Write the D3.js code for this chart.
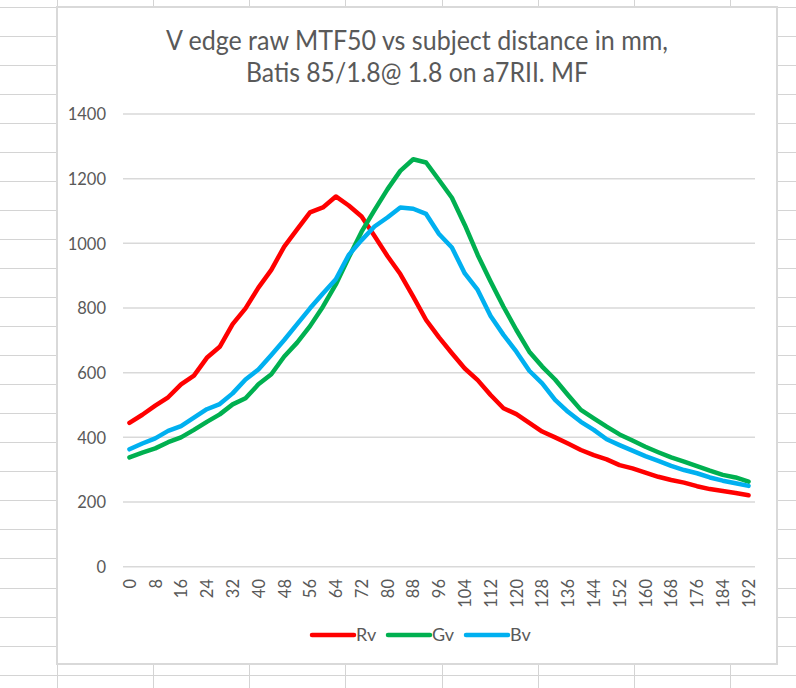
<!DOCTYPE html>
<html>
<head>
<meta charset="utf-8">
<script src="https://cdn.jsdelivr.net/npm/d3@7"></script>
<style>
  html, body { margin: 0; padding: 0; background: #fff; }
  svg { display: block; }
  text { font-family: Lato, "Open Sans", "Liberation Sans", sans-serif; }
</style>
</head>
<body>
<svg id="chart" width="796" height="688"></svg>
<script>
// ---- data ----
const categories = d3.range(0, 193, 4);          // subject distance steps (mm)
const tickLabels = d3.range(0, 193, 8);          // labels shown on x axis
const yTicks = [0, 200, 400, 600, 800, 1000, 1200, 1400];

const seriesNames = ["Rv", "Gv", "Bv"];
const seriesColors = ["#FF0000", "#00B050", "#00B0F0"];

const rv = [445,470,498,524,564,591,646,680,750,799,863,918,990,1043,1096,1111,1145,1117,1083,1023,
            961,905,835,763,709,660,613,577,531,490,472,445,418,400,381,361,345,332,314,304,
            291,278,268,260,249,240,234,228,221];
const gv = [338,353,366,385,400,423,448,471,502,521,564,595,650,693,744,804,873,956,1036,1103,
            1167,1224,1260,1250,1196,1141,1057,964,882,804,732,665,619,579,531,485,459,433,409,390,
            371,354,338,325,311,297,284,276,263];
const bv = [363,381,397,420,435,461,487,503,536,579,610,655,701,750,799,845,889,964,1010,1052,
            1080,1111,1107,1091,1029,987,907,856,775,717,665,606,567,516,479,448,423,394,376,359,
            342,327,312,299,289,276,266,258,250];

const titleLines = ["V edge raw MTF50 vs subject distance in mm,", "Batis 85/1.8@ 1.8 on a7RII. MF"];

// ---- drawing ----
const svg = d3.select("#chart");
const W = 796, H = 688;

// spreadsheet cells in the background
const bg = svg.append("g");
const rowH = 29.05, colW = 96.15;
for (let y = 6.5; y < H; y += rowH) {
  bg.append("line").attr("x1", 0).attr("x2", W).attr("y1", Math.round(y) + 0.5).attr("y2", Math.round(y) + 0.5)
    .attr("stroke", "#d4d4d4").attr("stroke-width", 1);
}
for (let x = 57 - colW; x < W; x += colW) {
  bg.append("line").attr("y1", 0).attr("y2", H).attr("x1", Math.round(x) + 0.5).attr("x2", Math.round(x) + 0.5)
    .attr("stroke", "#d4d4d4").attr("stroke-width", 1);
}

// chart area
const box = { x0: 57, y0: 7, x1: 777, y1: 664 };
svg.append("rect")
  .attr("x", box.x0).attr("y", box.y0)
  .attr("width", box.x1 - box.x0).attr("height", box.y1 - box.y0)
  .attr("fill", "#fff").attr("stroke", "#d9d9d9").attr("stroke-width", 2);

// title
const cx = (box.x0 + box.x1) / 2;
const titleWidths = [502, 342];
svg.append("g").selectAll("text").data(titleLines).join("text")
  .attr("x", cx).attr("y", (d, i) => 50 + i * 31.5)
  .attr("text-anchor", "middle")
  .attr("font-size", 26).attr("font-weight", 400)
  .attr("fill", "#595959")
  .attr("textLength", (d, i) => titleWidths[i])
  .attr("lengthAdjust", "spacingAndGlyphs")
  .text(d => d);

// scales
const x = d3.scalePoint().domain(categories).range([123, 755]).padding(0.5);
const y = d3.scaleLinear().domain([0, 1400]).range([566.7, 114]);

// gridlines
const grid = svg.append("g");
grid.selectAll("line").data(yTicks).join("line")
  .attr("x1", 123).attr("x2", 755)
  .attr("y1", d => y(d)).attr("y2", d => y(d))
  .attr("stroke", "#d9d9d9").attr("stroke-width", 1.5);

// y axis labels
const yAxis = d3.axisLeft(y).tickValues(yTicks).tickFormat(d3.format("d")).tickSize(0).tickPadding(0);
const gy = svg.append("g").attr("transform", "translate(106,0)").call(yAxis);
gy.select(".domain").remove();
gy.selectAll("text").attr("font-size", 16.5).attr("fill", "#595959")
  .attr("font-family", "Lato, 'Open Sans', sans-serif").attr("dy", "0.35em");

// x axis labels (rotated)
const xAxis = d3.axisBottom(x).tickValues(tickLabels).tickFormat(d3.format("d")).tickSize(0).tickPadding(0);
const gx = svg.append("g").attr("transform", "translate(0,576)").call(xAxis);
gx.select(".domain").remove();
gx.selectAll("text")
  .attr("font-size", 16.5).attr("fill", "#595959")
  .attr("font-family", "Lato, 'Open Sans', sans-serif")
  .attr("transform", "rotate(-90)")
  .attr("text-anchor", "end")
  .attr("x", -3).attr("y", 0).attr("dy", "0.35em");

// lines
const seriesData = [rv, gv, bv];
const line = d3.line().x((d, i) => x(categories[i])).y(d => y(d));
svg.append("g").selectAll("path").data(seriesData).join("path")
  .attr("d", d => line(d))
  .attr("fill", "none")
  .attr("stroke", (d, i) => seriesColors[i])
  .attr("stroke-width", 4.5)
  .attr("stroke-linejoin", "round")
  .attr("stroke-linecap", "round");

// legend
const legendX = [312, 388, 466];
const lg = svg.append("g").selectAll("g").data(seriesNames).join("g")
  .attr("transform", (d, i) => `translate(${legendX[i]},635)`);
lg.append("line").attr("x1", 0).attr("x2", 42).attr("y1", 0).attr("y2", 0)
  .attr("stroke", (d, i) => seriesColors[i]).attr("stroke-width", 4.5).attr("stroke-linecap", "round");
lg.append("text").attr("x", 44).attr("y", 0).attr("dy", "0.35em")
  .attr("font-size", 18).attr("fill", "#595959").text(d => d);
</script>
</body>
</html>
